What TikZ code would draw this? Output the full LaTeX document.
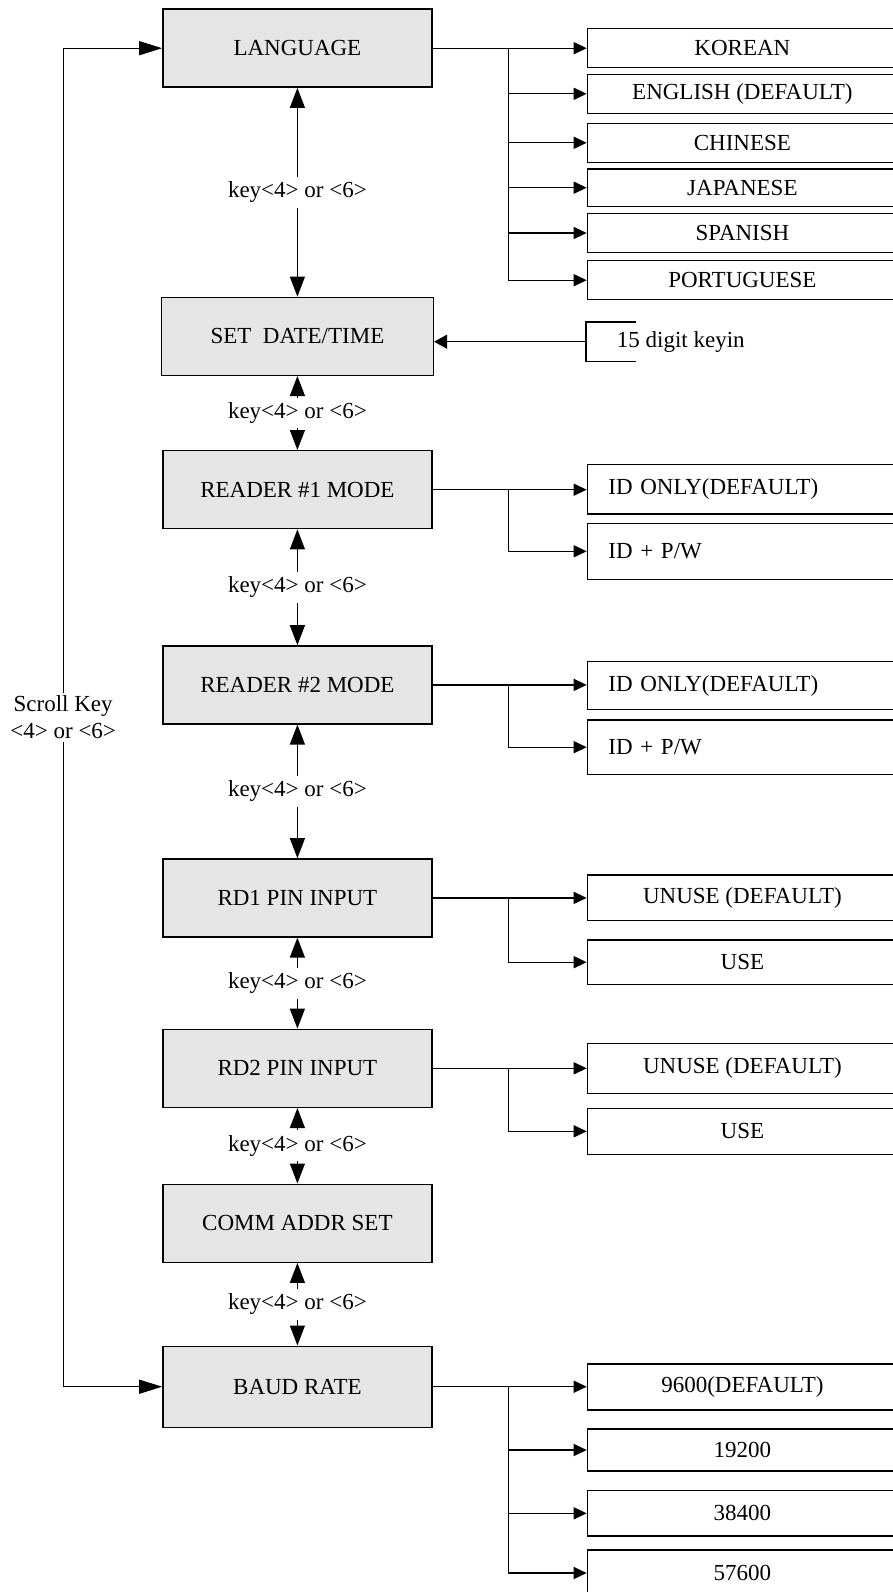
\documentclass[tikz,border=0pt]{standalone}
\usepackage{fontspec}
\setmainfont{Liberation Serif}
\usetikzlibrary{arrows.meta}
\usetikzlibrary{positioning}
\tikzset{
    menu/.style = {draw,line width=1.4pt,fill=black!10,minimum width=269pt,minimum height=78pt,inner sep=0},
    opt/.style = {draw,line width=1.4pt,minimum width=310pt,anchor=west,inner sep=0},
    optl/.style = {opt,inner xsep=21pt,text width=268pt,align=left},
    keylbl/.style = {fill=white,inner xsep=2pt,inner ysep=5pt},
    keyarr/.style = {line width=1.3pt,{Triangle[length=20pt,width=15pt]}-{Triangle[length=20pt,width=15pt]}},
    optarr/.style = {line width=1.3pt,-{Triangle[length=13pt,width=12pt]}},
    scrollarr/.style = {line width=1.3pt,{Triangle[length=23pt,width=14pt]}-{Triangle[length=23pt,width=14pt]}}
}

\begin{document}
\begin{tikzpicture}[x=1pt,y=-1pt,font=\fontsize{23}{27}\selectfont]
        \useasboundingbox (0,0) rectangle (893,1592);
        \clip (0,0) rectangle (893,1592);
        \newcommand\optx{586.7}
        \newcommand\menux{297.4}
        % Branch line
        \path (508.5,0) coordinate (br)
        ;
        % Menus
        \node[menu] (lang) at (\menux,48.2) {LANGUAGE};
        \node[menu,minimum width=272pt] (setdt) at (\menux,336.3) {SET~~DATE/TIME};
        \node[menu] (rdone) at (\menux,489.7) {READER \#1 MODE};
        \node[menu] (rdtwo) at (\menux,684.9) {READER \#2 MODE};
        \node[menu] (pinone) at (\menux,897.9) {RD1 PIN INPUT};
        \node[menu] (pintwo) at (\menux,1068.3) {RD2 PIN INPUT};
        \node[menu] (comm) at (\menux,1223.2) {COMM ADDR SET};
        \node[menu,minimum height=81pt] (baud) at (\menux,1386.7) {BAUD RATE};
        % Languages
        \node[opt,minimum height=39pt] (korean) at (\optx,47.8) {KOREAN};
        \node[opt,minimum height=39pt] (english) at (\optx,93.8) {ENGLISH (DEFAULT)};
        \node[opt,minimum height=39pt] (chinese) at (\optx,142.8) {CHINESE};
        \node[opt,minimum height=37.3pt] (japanese) at (\optx,187.7) {JAPANESE};
        \node[opt,minimum height=38.6pt] (spanish) at (\optx,233) {SPANISH};
        \node[opt,minimum height=39pt] (portuguese) at (\optx,280.2) {PORTUGUESE};
        % Date input
        \node[anchor=west,inner sep=0,minimum height=38.7pt] (keyin) at (616.7,341.7) {15 digit keyin};
        % Reader modes
        \node[optl,minimum height=49.3pt] (rdoneid) at (\optx,489.3) {ID ONLY(DEFAULT)};
        \node[optl,minimum height=56pt] (rdonepw) at (\optx,551.3) {ID + P/W};
        \node[optl,minimum height=47.6pt] (rdtwoid) at (\optx,685.5) {ID ONLY(DEFAULT)};
        \node[optl,minimum height=54.3pt] (rdtwopw) at (\optx,747.2) {ID + P/W};
        % Pin inputs
        \node[opt,minimum height=45.7pt] (pinoneun) at (\optx,897.8) {UNUSE (DEFAULT)};
        \node[opt,minimum height=44.3pt] (pinoneuse) at (\optx,962.2) {USE};
        \node[opt,minimum height=50pt] (pintwoun) at (\optx,1068.3) {UNUSE (DEFAULT)};
        \node[opt,minimum height=46pt] (pintwouse) at (\optx,1131.3) {USE};
        % Baud rates
        \node[opt,minimum height=46pt] (bda) at (\optx,1387) {9600(DEFAULT)};
        \node[opt,minimum height=42pt] (bdb) at (\optx,1450) {19200};
        \node[opt,minimum height=45.3pt] (bdc) at (\optx,1513.3) {38400};
        \node[opt,minimum height=46pt] (bdd) at (\optx,1573) {57600};
        % Key arrows
        \foreach \src/\dest in {lang/setdt,setdt/rdone,rdone/rdtwo,rdtwo/pinone,pinone/pintwo,pintwo/comm,comm/baud}
            \draw[keyarr] (\src.south) -- node[keylbl] {key<4> or <6>} (\dest.north);
        % Scroll key
        \draw[scrollarr] (lang.west) -- ++(-99,0) coordinate (sktop)
            -- node[keylbl,inner ysep=3pt,align=center] {Scroll Key\\<4> or <6>} (sktop |- baud.west)
            -- (baud.west);
        % First options
        \foreach \src/\dest in {lang/korean,rdone/rdoneid,rdtwo/rdtwoid,pinone/pinoneun,pintwo/pintwoun,baud/bda}
            \draw[optarr] (\src.east) -- (\src.east -| \dest.west);
        % Other options
        \foreach \src/\dest in {lang/english,lang/chinese,lang/japanese,lang/spanish,lang/portuguese,
            rdone/rdonepw,rdtwo/rdtwopw,pinone/pinoneuse,pintwo/pintwouse,baud/bdb,baud/bdc,baud/bdd}
            \draw[optarr] (\src.east -| br) |- (\dest.west);
        % Date input bracket
        \draw[line width=1.4pt] ([xshift=19.3pt]keyin.north west) -| ([xshift=-30.7pt]keyin.south west)
            -- ([xshift=19.3pt]keyin.south west);
        \draw[optarr,-{Triangle[length=13pt,width=14pt]}] ([xshift=-30.7pt]keyin.west) -- (keyin.west -| setdt.east);
    \end{tikzpicture}
\end{document}
